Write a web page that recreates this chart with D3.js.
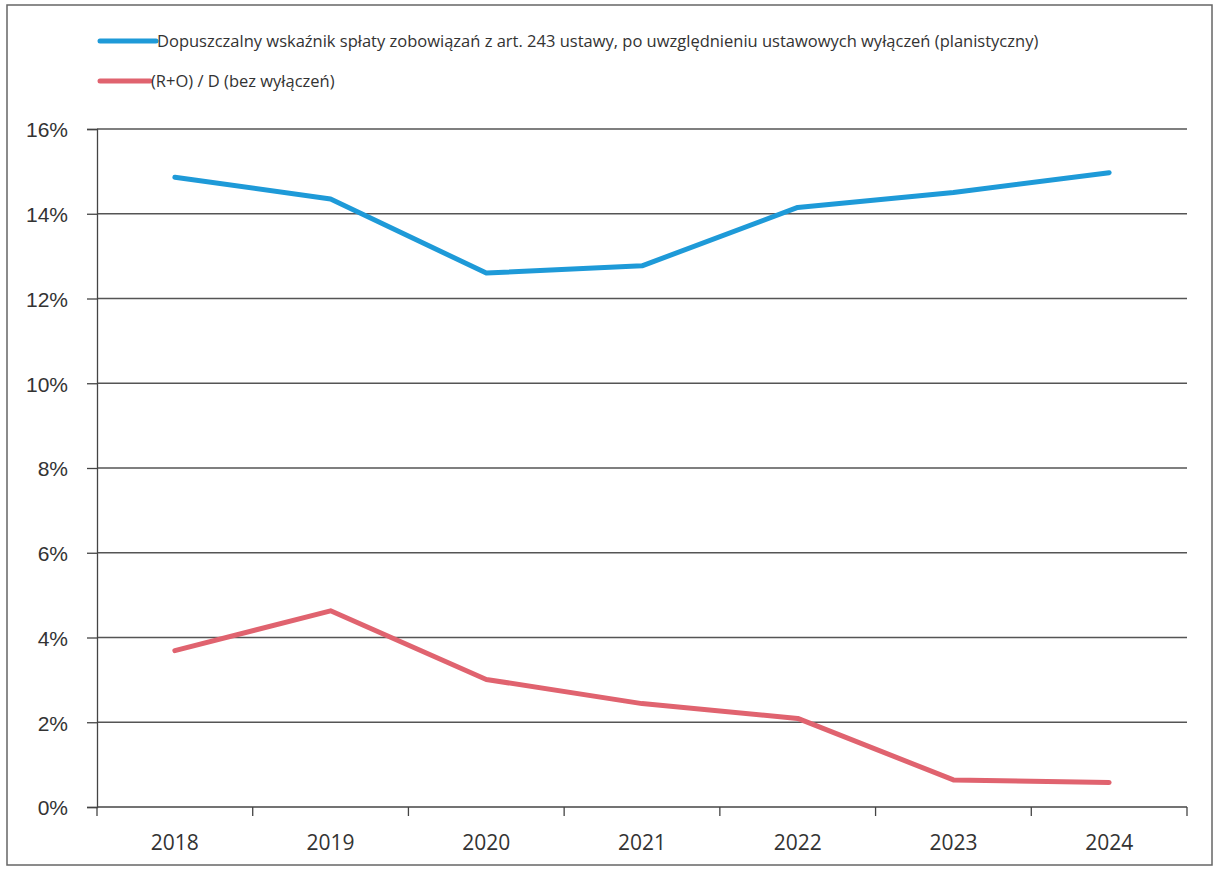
<!DOCTYPE html>
<html>

<head>
    <meta charset="utf-8">
    <style>
        body {
            margin: 0;
            background-color: white;
        }

        svg {
            display: block;
            font-family: 'Open Sans', 'DejaVu Sans', sans-serif;
        }

        .grid line {
            stroke: #555;
            stroke-width: 1.3;
        }

        .axis path,
        .axis line {
            stroke: #444;
            stroke-width: 1.3;
        }

        .axis text {
            fill: #333;
            font-size: 21px;
        }

        .legend text {
            fill: #333;
            font-size: 16.5px;
        }
    </style>
</head>

<body>
    <svg width="1215" height="872"></svg>
</body>

<script src="https://d3js.org/d3.v7.min.js"></script>

<script>
    // data
    let years = ["2018", "2019", "2020", "2021", "2022", "2023", "2024"];
    let limitValues = [14.86, 14.35, 12.6, 12.77, 14.15, 14.5, 14.97]; // blue
    let ratioValues = [3.69, 4.63, 3.01, 2.44, 2.09, 0.64, 0.58];       // red
    let yTicks = [0, 2, 4, 6, 8, 10, 12, 14, 16];
    let seriesNames = [
        "Dopuszczalny wskaźnik spłaty zobowiązań z art. 243 ustawy, po uwzględnieniu ustawowych wyłączeń (planistyczny)",
        "(R+O) / D (bez wyłączeń)"
    ];
    let seriesColors = ["#1e9ad8", "#e0636f"];

    let w = 1215;
    let h = 872;
    let margin = {top: 129, bottom: 65, left: 97, right: 28};

    let svg = d3.select("svg");

    // outer frame of the scanned chart
    svg.append("rect")
        .attr("x", 7)
        .attr("y", 5)
        .attr("width", 1205)
        .attr("height", 860)
        .style("fill", "none")
        .style("stroke", "#666")
        .style("stroke-width", 1.5);

    let x = d3.scaleBand()
        .domain(years)
        .range([margin.left, w - margin.right]);

    let y = d3.scaleLinear()
        .domain([0, 16])
        .range([h - margin.bottom, margin.top]);

    // horizontal gridlines
    svg.append("g")
        .attr("class", "grid")
        .selectAll("line")
        .data(yTicks.filter(d => d > 0))
        .join("line")
        .attr("x1", margin.left)
        .attr("x2", w - margin.right)
        .attr("y1", d => y(d))
        .attr("y2", d => y(d));

    // y axis
    let yAxis = d3.axisLeft(y)
        .tickValues(yTicks)
        .tickFormat(d => d + "%")
        .tickSize(10)
        .tickPadding(19);

    svg.append("g")
        .attr("class", "axis y")
        .attr("transform", "translate(" + margin.left + ",0)")
        .call(yAxis)
        .call(g => g.selectAll("text").attr("dy", "0.38em"));

    // x axis: ticks sit at the band edges
    let edges = years.map(d => x(d)).concat([x.range()[1]]);

    let xg = svg.append("g")
        .attr("class", "axis x")
        .attr("transform", "translate(0," + y(0) + ")");

    xg.append("line")
        .attr("x1", margin.left)
        .attr("x2", w - margin.right)
        .attr("y1", 0)
        .attr("y2", 0);

    xg.selectAll(".edge")
        .data(edges)
        .join("line")
        .attr("class", "edge")
        .attr("x1", d => d)
        .attr("x2", d => d)
        .attr("y1", 0)
        .attr("y2", 9);

    xg.selectAll("text")
        .data(years)
        .join("text")
        .attr("x", d => x(d) + x.bandwidth() / 2)
        .attr("y", 43)
        .attr("text-anchor", "middle")
        .text(d => d);

    let line = d3.line()
        .x((d, i) => x(years[i]) + x.bandwidth() / 2)
        .y(d => y(d));

    [limitValues, ratioValues].forEach(function (vals, i) {
        svg.append("path")
            .datum(vals)
            .attr("d", line)
            .style("fill", "none")
            .style("stroke", seriesColors[i])
            .style("stroke-width", 5)
            .style("stroke-linecap", "round")
            .style("stroke-linejoin", "round");
    });

    // legend at the top
    let legend = svg.append("g")
        .attr("class", "legend")
        .selectAll("g")
        .data(seriesNames)
        .join("g")
        .attr("transform", (d, i) => "translate(100," + (41 + i * 40) + ")");

    legend.append("line")
        .attr("x1", 0)
        .attr("x2", (d, i) => i == 0 ? 56 : 50)
        .attr("y1", 0)
        .attr("y2", 0)
        .style("stroke", (d, i) => seriesColors[i])
        .style("stroke-width", 5)
        .style("stroke-linecap", "round");

    legend.append("text")
        .attr("x", (d, i) => i == 0 ? 57 : 51)
        .attr("y", 0)
        .attr("dy", "0.35em")
        .text(d => d);
</script>

</html>
